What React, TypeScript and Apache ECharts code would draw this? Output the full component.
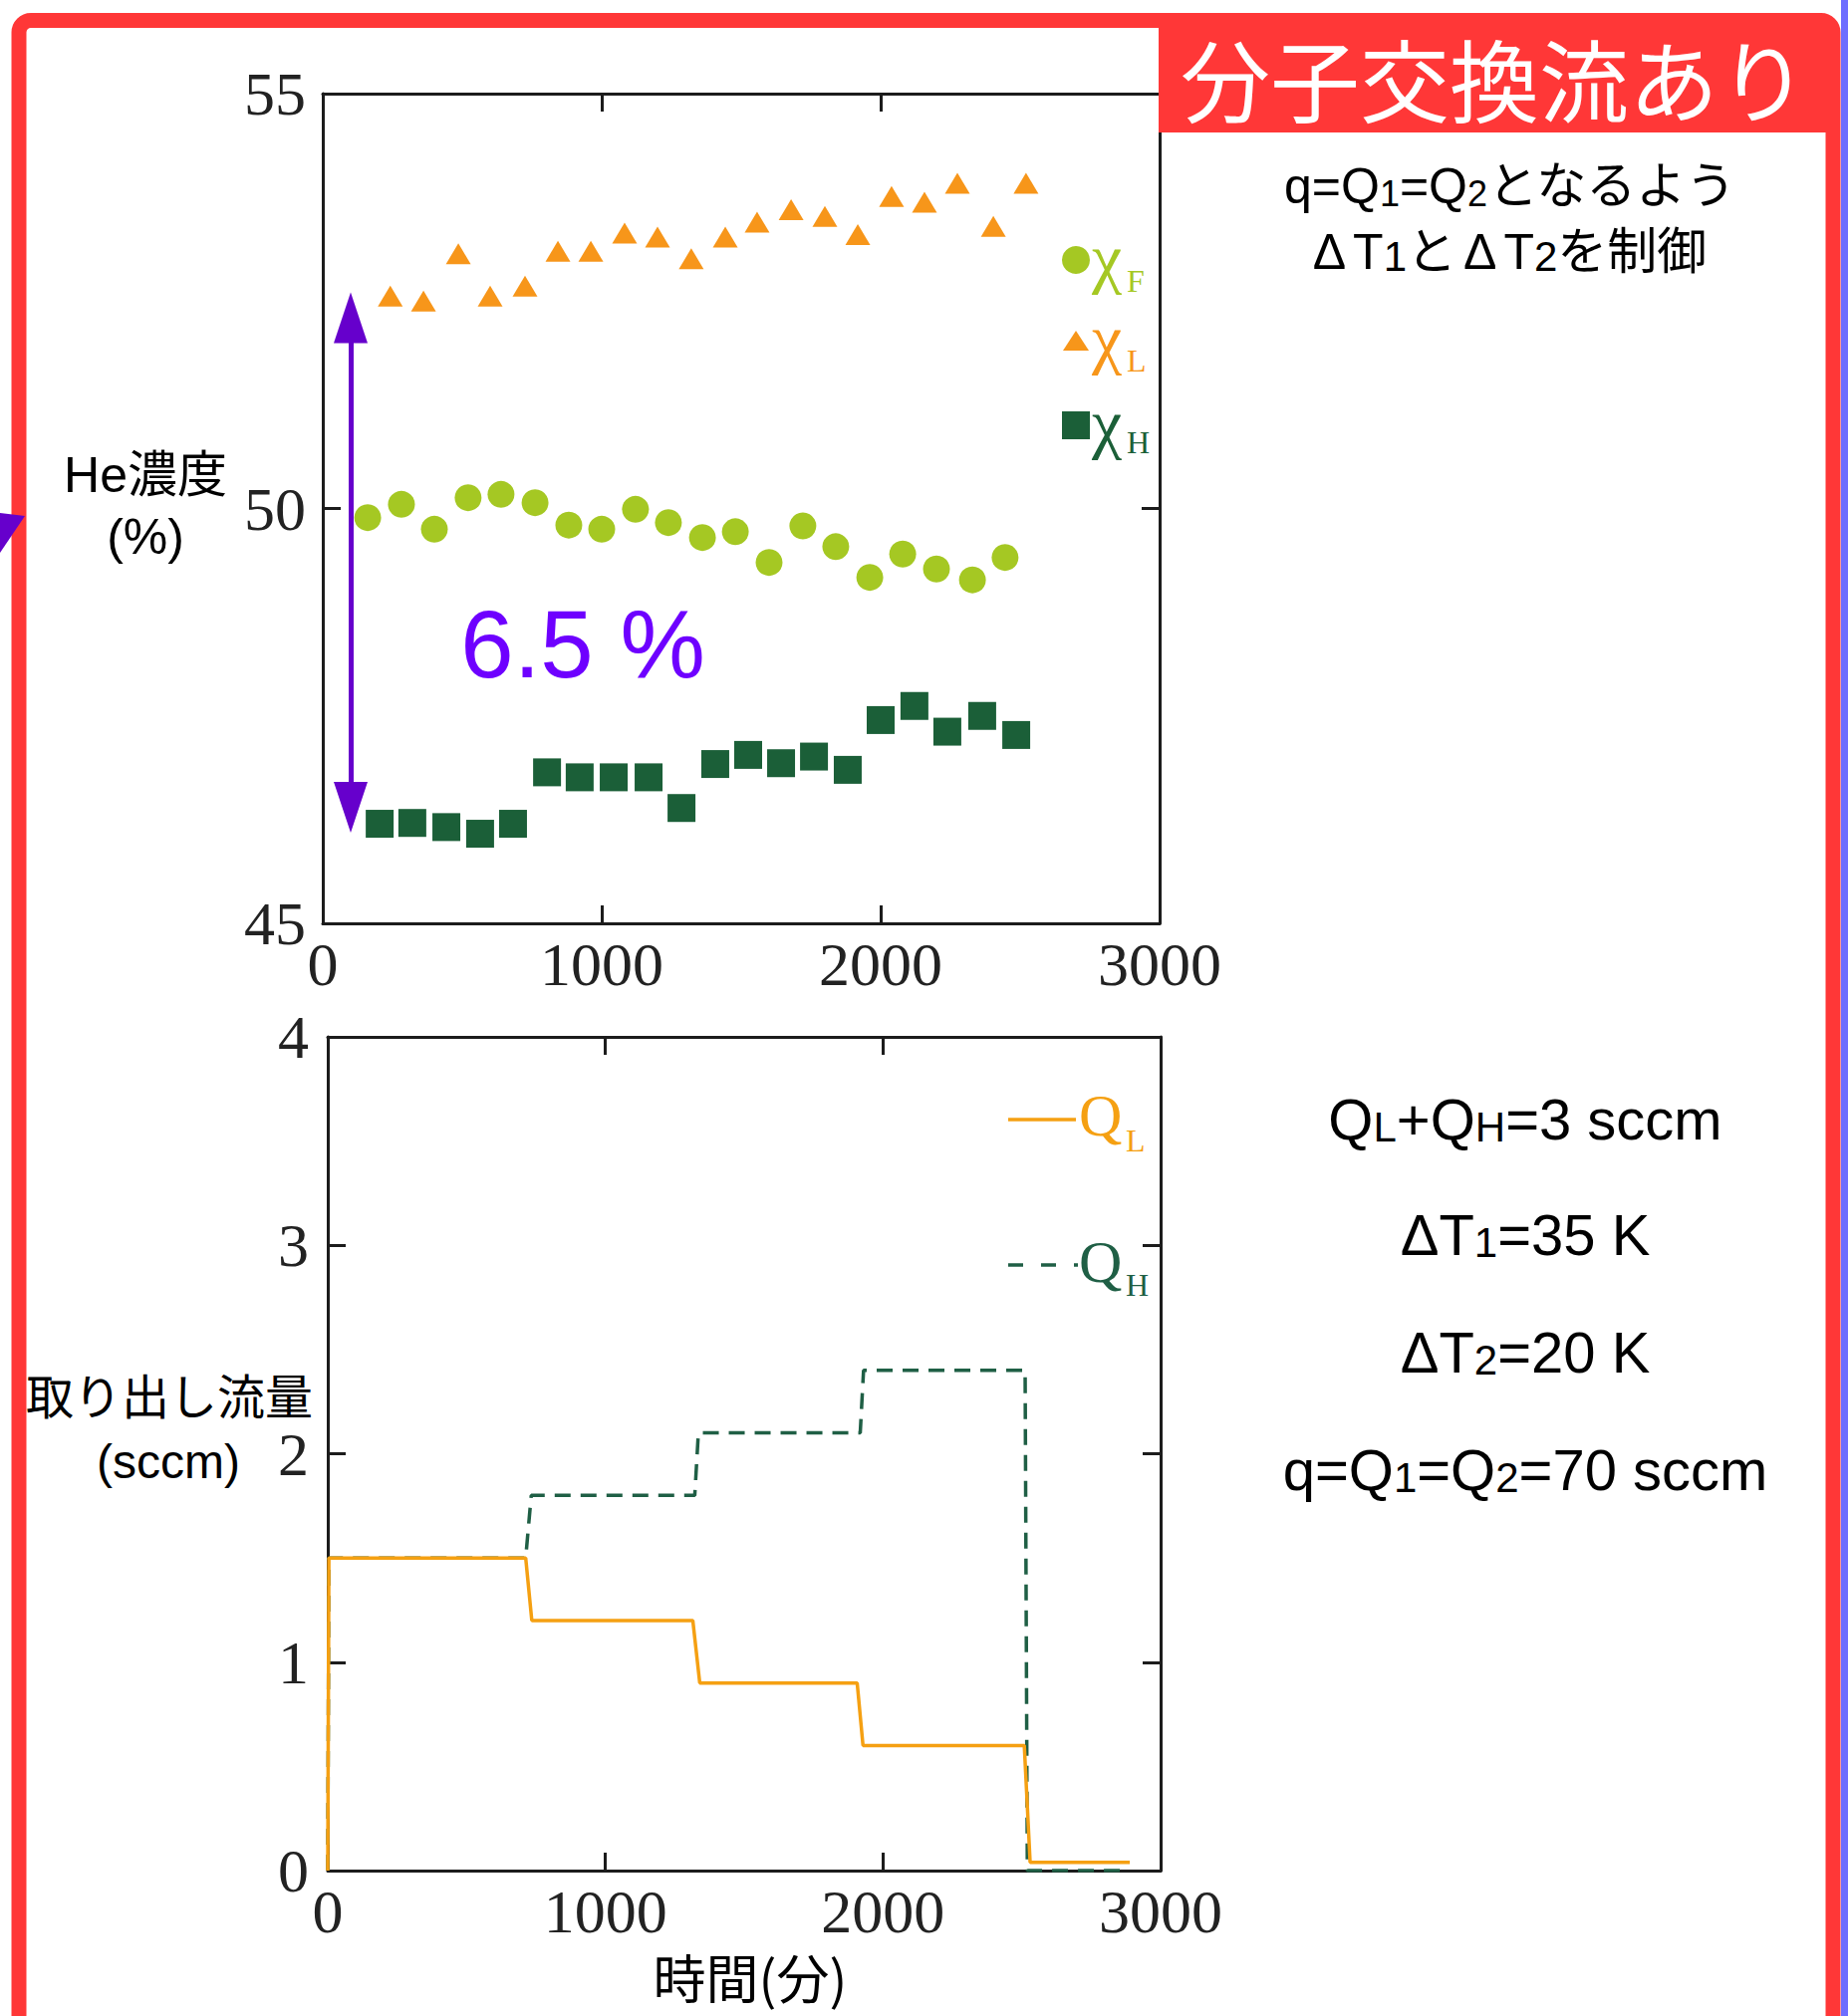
import React, { useEffect, useRef } from "react";
import * as echarts from "echarts";

// ---------- Top panel: He concentration (%) vs time (min) ----------
const timeF = [161, 282, 400, 521, 639, 761, 882, 1000, 1121, 1239, 1361, 1479, 1600, 1721, 1839, 1961, 2079, 2200, 2329, 2446];
const chiF = [49.89, 50.05, 49.75, 50.13, 50.17, 50.07, 49.8, 49.75, 49.99, 49.83, 49.65, 49.72, 49.35, 49.79, 49.54, 49.17, 49.45, 49.27, 49.14, 49.41];
const timeL = [242, 361, 486, 600, 725, 843, 961, 1082, 1200, 1321, 1443, 1557, 1679, 1800, 1918, 2039, 2157, 2275, 2404, 2521];
const chiL = [52.56, 52.5, 53.07, 52.56, 52.68, 53.1, 53.1, 53.32, 53.27, 53.01, 53.27, 53.45, 53.6, 53.52, 53.3, 53.76, 53.69, 53.92, 53.4, 53.92];
const timeH = [204, 321, 443, 564, 682, 804, 921, 1043, 1168, 1286, 1407, 1525, 1643, 1761, 1882, 2000, 2121, 2239, 2364, 2486];
const chiH = [46.2, 46.21, 46.16, 46.08, 46.2, 46.82, 46.76, 46.76, 46.76, 46.39, 46.92, 47.03, 46.93, 47.01, 46.85, 47.45, 47.62, 47.31, 47.5, 47.27];

// separation arrow (6.5 %)
const arrowTime = 100;
const arrowFrom = 46.4;
const arrowTo = 52.3;

// ---------- Bottom panel: extraction flow (sccm) vs time (min) ----------
const timeQL = [0, 4, 713, 735, 1315, 1340, 1907, 1928, 2509, 2530, 2889];
const flowQL = [0, 1.5, 1.5, 1.2, 1.2, 0.9, 0.9, 0.6, 0.6, 0.04, 0.04];
const timeQH = [0, 4, 713, 733, 1322, 1335, 1918, 1930, 2512, 2520, 2889];
const flowQH = [0, 1.5, 1.5, 1.8, 1.8, 2.1, 2.1, 2.4, 2.4, 0, 0];

// tick labels
const xTicks = [0, 1000, 2000, 3000];
const topYTicks = [45, 50, 55];
const bottomYTicks = [0, 1, 2, 3, 4];

const SERIF = "'Liberation Serif', 'Times New Roman', serif";
const SANS = "'Liberation Sans', Arial, 'Noto Sans CJK JP', sans-serif";
const CJK = "'Noto Sans CJK JP', sans-serif";

const RED = "#FF3737";
const PURPLE = "#6600CC";
const PURPLE_TEXT = "#6E00FF";
const C_F = "#A5C823";
const C_L = "#F7961A";
const C_H = "#1B5F38";
const C_QL = "#F5A012";
const C_QH = "#1F5F45";
const AXIS = "#1c1c1c";

const zip = (xs: number[], ys: number[]) => xs.map((x, i) => [x, ys[i]]);

function axis(gridIndex: number, ticks: number[], position: string, showLabel: boolean, margin: number) {
  return {
    type: "value",
    gridIndex,
    position,
    min: ticks[0],
    max: ticks[ticks.length - 1],
    interval: ticks[1] - ticks[0],
    axisLine: { show: true, onZero: false, lineStyle: { color: AXIS, width: 3 } },
    axisTick: { show: true, inside: true, length: 18, lineStyle: { color: AXIS, width: 3 } },
    axisLabel: {
      show: showLabel,
      margin,
      fontFamily: SERIF,
      fontSize: 62,
      color: "#222",
      formatter: (v: number) => String(v),
    },
    splitLine: { show: false },
  };
}

const richBig = {
  m: { fontSize: 58, fontFamily: SANS, fill: "#000", lineHeight: 70, verticalAlign: "bottom" },
  s: { fontSize: 42, fontFamily: SANS, fill: "#000", lineHeight: 57, verticalAlign: "bottom" },
};
const richSmall = {
  m: { fontSize: 50, fontFamily: SANS, fill: "#000", lineHeight: 60, verticalAlign: "bottom" },
  s: { fontSize: 36, fontFamily: SANS, fill: "#000", lineHeight: 49, verticalAlign: "bottom" },
  t: { fontSize: 42, fontFamily: SANS, fill: "#000", lineHeight: 54, verticalAlign: "bottom" },
  d: { fontSize: 50, fontFamily: SANS, fill: "#000", lineHeight: 60, verticalAlign: "bottom", padding: [0, 7, 0, 7] },
};

function richText(x: number, y: number, text: string, rich: any) {
  return {
    type: "text",
    z: 60,
    x,
    y,
    style: { text, rich, align: "center", verticalAlign: "middle", fill: "#000", fontFamily: SANS, fontSize: 50 },
  };
}

function plainText(x: number, y: number, text: string, fontSize: number, fontFamily: string, fill: string, align = "center") {
  return {
    type: "text",
    z: 60,
    x,
    y,
    style: { text, fontSize, fontFamily, fill, align, verticalAlign: "middle" },
  };
}

function buildOption() {
  return {
    animation: false,
    backgroundColor: "#ffffff",
    grid: [
      { left: 324, top: 94, width: 840, height: 833 },
      { left: 329, top: 1041, width: 836, height: 837 },
    ],
    xAxis: [
      axis(0, xTicks, "bottom", true, 10),
      axis(0, xTicks, "top", false, 10),
      axis(1, xTicks, "bottom", true, 10),
      axis(1, xTicks, "top", false, 10),
    ],
    yAxis: [
      axis(0, topYTicks, "left", true, 17),
      axis(0, topYTicks, "right", false, 17),
      axis(1, bottomYTicks, "left", true, 19),
      axis(1, bottomYTicks, "right", false, 19),
    ],
    series: [
      {
        type: "scatter",
        name: "χL",
        xAxisIndex: 0,
        yAxisIndex: 0,
        data: zip(timeL, chiL),
        symbol: "triangle",
        symbolSize: [25, 21],
        itemStyle: { color: C_L, opacity: 1 },
        z: 3,
      },
      {
        type: "scatter",
        name: "χF",
        xAxisIndex: 0,
        yAxisIndex: 0,
        data: zip(timeF, chiF),
        symbol: "circle",
        symbolSize: 27,
        itemStyle: { color: C_F, opacity: 1 },
        z: 3,
      },
      {
        type: "scatter",
        name: "χH",
        xAxisIndex: 0,
        yAxisIndex: 0,
        data: zip(timeH, chiH),
        symbol: "rect",
        symbolSize: 28,
        itemStyle: { color: C_H, opacity: 1 },
        z: 3,
        markLine: {
          silent: true,
          animation: false,
          symbol: ["triangle", "triangle"],
          symbolSize: 34,
          label: { show: false },
          lineStyle: { color: PURPLE, width: 5, type: "solid", opacity: 1 },
          emphasis: { disabled: true },
          data: [
            [
              { coord: [arrowTime, arrowFrom], symbolSize: [34, 51] },
              { coord: [arrowTime, arrowTo], symbolSize: [34, 51] },
            ],
          ],
        },
      },
      {
        type: "line",
        name: "QH",
        xAxisIndex: 2,
        yAxisIndex: 2,
        data: zip(timeQH, flowQH),
        showSymbol: false,
        symbol: "none",
        lineStyle: { color: C_QH, width: 3.5, type: [16, 10] },
        z: 2,
      },
      {
        type: "line",
        name: "QL",
        xAxisIndex: 2,
        yAxisIndex: 2,
        data: zip(timeQL, flowQL),
        showSymbol: false,
        symbol: "none",
        lineStyle: { color: C_QL, width: 3.5, type: "solid" },
        z: 4,
      },
    ],
    graphic: {
      elements: [
        // red frame
        { type: "rect", z: 50, silent: true, shape: { x: 19, y: 20.5, width: 1821, height: 2100, r: 12 }, style: { fill: "none", stroke: RED, lineWidth: 15 } },
        { type: "rect", z: 50, silent: true, shape: { x: 1848, y: 0, width: 7, height: 2024 }, style: { fill: "#6E6EFF" } },
        // header
        { type: "rect", z: 55, silent: true, shape: { x: 1163, y: 20, width: 677, height: 113 }, style: { fill: RED } },
        plainText(1500, 77, "分子交換流あり", 90, CJK, "#ffffff"),
        // partial purple arrow on the left edge
        { type: "polygon", z: 58, silent: true, shape: { points: [[0, 515], [25, 518], [0, 555]] }, style: { fill: PURPLE } },
        // condition notes
        richText(1516, 182, "{m|q=Q}{s|1}{m|=Q}{s|2}{m|となるよう}", richSmall),
        richText(1512, 248, "{d|Δ}{m|T}{t|1}{m|と}{d|Δ}{m|T}{t|2}{m|を制御}", richSmall),
        richText(1531, 1117, "{m|Q}{s|L}{m|+Q}{s|H}{m|=3 sccm}", richBig),
        richText(1531, 1233, "{m|ΔT}{s|1}{m|=35 K}", richBig),
        richText(1531, 1351, "{m|ΔT}{s|2}{m|=20 K}", richBig),
        richText(1531, 1469, "{m|q=Q}{s|1}{m|=Q}{s|2}{m|=70 sccm}", richBig),
        // axis titles
        plainText(146, 477, "He濃度", 50, SANS, "#000"),
        plainText(146, 539, "(%)", 50, SANS, "#000"),
        plainText(170, 1403, "取り出し流量", 48, SANS, "#000"),
        plainText(169, 1467, "(sccm)", 48, SANS, "#000"),
        plainText(753, 1984, "時間(分)", 53, CJK, "#000"),
        // 6.5 %
        plainText(585, 646, "6.5 %", 96, SANS, PURPLE_TEXT),
        // top legend
        { type: "circle", z: 58, silent: true, shape: { cx: 1080, cy: 261, r: 14 }, style: { fill: C_F } },
        { type: "polygon", z: 58, silent: true, shape: { points: [[1067, 352], [1093, 352], [1080, 332]] }, style: { fill: C_L } },
        { type: "rect", z: 58, silent: true, shape: { x: 1066, y: 413, width: 28, height: 28 }, style: { fill: C_H } },
        plainText(1096, 259, "χ", 68, SERIF, C_F, "left"),
        plainText(1131, 282, "F", 32, SERIF, C_F, "left"),
        plainText(1096, 340, "χ", 68, SERIF, C_L, "left"),
        plainText(1131, 362, "L", 32, SERIF, C_L, "left"),
        plainText(1096, 425, "χ", 68, SERIF, C_H, "left"),
        plainText(1131, 444, "H", 32, SERIF, C_H, "left"),
        // bottom legend
        { type: "line", z: 58, silent: true, shape: { x1: 1012, y1: 1124, x2: 1080, y2: 1124 }, style: { stroke: C_QL, lineWidth: 3.5 } },
        { type: "line", z: 58, silent: true, shape: { x1: 1012, y1: 1270, x2: 1082, y2: 1270 }, style: { stroke: C_QH, lineWidth: 3.5, lineDash: [15, 18] } },
        plainText(1083, 1120, "Q", 60, SERIF, C_QL, "left"),
        plainText(1130, 1145, "L", 32, SERIF, C_QL, "left"),
        plainText(1083, 1267, "Q", 60, SERIF, C_QH, "left"),
        plainText(1130, 1290, "H", 32, SERIF, C_QH, "left"),
      ],
    },
  };
}

export default function App() {
  const ref = useRef<HTMLDivElement>(null);
  useEffect(() => {
    document.body.style.margin = "0";
    const el = ref.current;
    if (!el) return;
    const chart = echarts.init(el, null, { renderer: "svg" });
    chart.setOption(buildOption() as any);
    return () => {
      chart.dispose();
    };
  }, []);
  return <div ref={ref} style={{ width: 1855, height: 2024, background: "#fff", position: "relative" }} />;
}
